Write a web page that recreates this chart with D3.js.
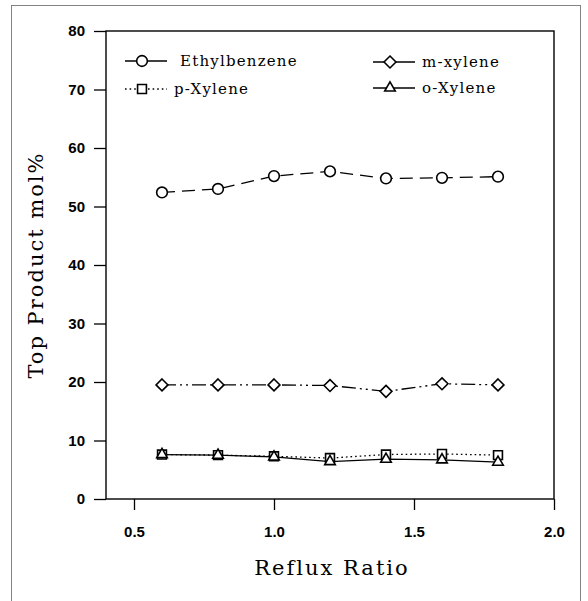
<!DOCTYPE html>
<html>
<head>
<meta charset="utf-8">
<script src="https://cdn.jsdelivr.net/npm/d3@7"></script>
<style>
  body { margin: 0; background: #fff; }
  svg { display: block; }
</style>
</head>
<body>
<div id="chart"></div>
<script>
// values
const refluxRatio = [0.6, 0.8, 1.0, 1.2, 1.4, 1.6, 1.8];
const ethylbenzene = [52.4, 53.0, 55.2, 56.0, 54.8, 54.9, 55.1];
const mXylene = [19.5, 19.5, 19.5, 19.4, 18.4, 19.7, 19.5];
const pXylene = [7.6, 7.5, 7.3, 7.0, 7.6, 7.7, 7.5];
const oXylene = [7.6, 7.5, 7.2, 6.4, 6.8, 6.7, 6.3];

const xTicks = [0.5, 1.0, 1.5, 2.0];
const yTicks = [0, 10, 20, 30, 40, 50, 60, 70, 80];

const seriesNames = ["Ethylbenzene", "m-xylene", "p-Xylene", "o-Xylene"];

const width = 588, height = 601;
const margin = {top: 31, right: 34, bottom: 102, left: 106};

const svg = d3.select("#chart").append("svg")
    .attr("width", width)
    .attr("height", height);

// outer frame of the scanned figure
svg.append("rect")
    .attr("x", 11.5).attr("y", 5.5)
    .attr("width", 569).attr("height", 620)
    .attr("fill", "none")
    .attr("stroke", "#777")
    .attr("stroke-width", 0.9);

const x = d3.scaleLinear()
    .domain([0.4, 2.0])
    .range([margin.left, width - margin.right]);

const y = d3.scaleLinear()
    .domain([0, 80])
    .range([height - margin.bottom, margin.top]);

// plot box
svg.append("rect")
    .attr("x", x(0.4)).attr("y", y(80))
    .attr("width", x(2.0) - x(0.4))
    .attr("height", y(0) - y(80))
    .attr("fill", "none")
    .attr("stroke", "#000")
    .attr("stroke-width", 1.4);

// y axis
const yAxis = d3.axisLeft(y)
    .tickValues(yTicks)
    .tickSize(12)
    .tickPadding(9)
    .tickFormat(d3.format("d"));

svg.append("g")
    .attr("transform", `translate(${x(0.4)},0)`)
    .call(yAxis)
    .call(g => g.select(".domain").remove())
    .call(g => g.selectAll("line").attr("stroke-width", 1.3))
    .call(g => g.selectAll("text")
        .style("font-family", "Liberation Sans, Arial, sans-serif")
        .style("font-weight", "bold")
        .style("font-size", "15px")
        .attr("fill", "#000"));

// x axis
const xAxis = d3.axisBottom(x)
    .tickValues(xTicks)
    .tickSize(11)
    .tickPadding(16)
    .tickFormat(d3.format(".1f"));

svg.append("g")
    .attr("transform", `translate(0,${y(0)})`)
    .call(xAxis)
    .call(g => g.select(".domain").remove())
    .call(g => g.selectAll("line").attr("stroke-width", 1.3))
    .call(g => g.selectAll("text")
        .style("font-family", "Liberation Sans, Arial, sans-serif")
        .style("font-weight", "bold")
        .style("font-size", "15px")
        .attr("fill", "#000"));

// axis titles
svg.append("text")
    .attr("x", (x(0.4) + x(2.0)) / 2 + 2)
    .attr("y", 575)
    .attr("text-anchor", "middle")
    .style("font-family", "DejaVu Serif, serif")
    .style("font-size", "21px")
    .style("letter-spacing", "2px")
    .text("Reflux Ratio");

svg.append("text")
    .attr("transform", "translate(43,265) rotate(-90)")
    .attr("text-anchor", "middle")
    .style("font-family", "DejaVu Serif, serif")
    .style("font-size", "21px")
    .style("letter-spacing", "2px")
    .text("Top Product mol%");

// symbols and dash patterns per series
const styles = {
    "Ethylbenzene": {dash: "13,7", symbol: d3.symbolCircle, size: 90},
    "m-xylene": {dash: "14,4,2,4,2,4", symbol: d3.symbolDiamond2, size: 90},
    "p-Xylene": {dash: "1.6,3", symbol: d3.symbolSquare2, size: 100},
    "o-Xylene": {dash: null, symbol: d3.symbolTriangle2, size: 80}
};

const seriesValues = [ethylbenzene, mXylene, pXylene, oXylene];
const series = seriesNames.map((name, i) => ({
    name: name,
    values: refluxRatio.map((r, j) => ({r: r, v: seriesValues[i][j]}))
}));

const line = d3.line()
    .x(d => x(d.r))
    .y(d => y(d.v));

const plot = svg.append("g").attr("class", "series");

series.forEach(s => {
    const st = styles[s.name];
    plot.append("path")
        .datum(s.values)
        .attr("d", line)
        .attr("fill", "none")
        .attr("stroke", "#000")
        .attr("stroke-width", 1.3)
        .attr("stroke-dasharray", st.dash);

    plot.selectAll(null)
        .data(s.values)
        .enter()
        .append("path")
        .attr("transform", d => `translate(${x(d.r)},${y(d.v)})`)
        .attr("d", d3.symbol().type(st.symbol).size(st.size))
        .attr("fill", "#fff")
        .attr("stroke", "#000")
        .attr("stroke-width", 1.6);
});

// legend
const legendItems = [
    {name: "Ethylbenzene", lx: 125, cy: 61, tx: 180},
    {name: "p-Xylene", lx: 125, cy: 89, tx: 174},
    {name: "m-xylene", lx: 373, cy: 62, tx: 422},
    {name: "o-Xylene", lx: 373, cy: 88, tx: 422}
];

const legend = svg.append("g").attr("class", "legend");

legendItems.forEach(item => {
    const st = styles[item.name];
    legend.append("line")
        .attr("x1", item.lx).attr("x2", item.lx + 42)
        .attr("y1", item.cy).attr("y2", item.cy)
        .attr("stroke", "#000")
        .attr("stroke-width", 1.3)
        .attr("stroke-dasharray", item.name === "p-Xylene" ? "1.6,3" : null);
    legend.append("path")
        .attr("transform", `translate(${item.lx + 17},${item.cy})`)
        .attr("d", d3.symbol().type(st.symbol).size(st.size))
        .attr("fill", "#fff")
        .attr("stroke", "#000")
        .attr("stroke-width", 1.6);
    legend.append("text")
        .attr("x", item.tx)
        .attr("y", item.cy + 5)
        .style("font-family", "DejaVu Serif, serif")
        .style("font-size", "15px")
        .style("letter-spacing", "1.2px")
        .text(item.name);
});
</script>
</body>
</html>
